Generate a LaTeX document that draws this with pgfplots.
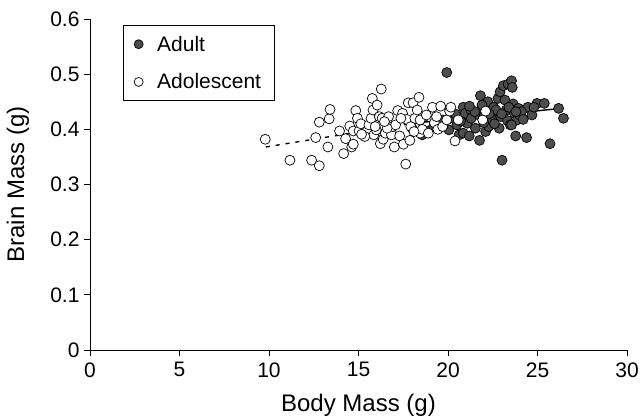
\documentclass[border=0pt]{standalone}
\usepackage{pgfplots}
\pgfplotsset{compat=1.18}
\usepackage{fontspec}
\setmainfont{Liberation Sans}
\definecolor{adultfill}{HTML}{4D4D4D}
\begin{document}
\begin{tikzpicture}
\begin{axis}[
  scale only axis,
  width=537pt, height=331pt,
  xmin=0, xmax=30, ymin=0, ymax=0.6,
  xtick={0,5,...,30},
  ytick={0,0.1,0.2,0.3,0.4,0.5,0.6},
  axis x line*=bottom, axis y line*=left,
  tick align=outside,
  major tick length=6pt,
  axis line style={black, line width=0.8pt},
  tick style={black, line width=0.8pt},
  /pgf/number format/assume math mode=true,
  yticklabel={\pgfmathprintnumber[fixed,precision=1]{\tick}},
  ticklabel style={font=\fontsize{21}{24}\selectfont},
  xticklabel style={yshift=-3pt},
  yticklabel style={xshift=-1pt},
  xlabel={Body Mass (g)},
  ylabel={Brain Mass (g)},
  label style={font=\fontsize{24}{28}\selectfont},
  xlabel style={at={(axis description cs:0.5,-0.168)}, anchor=center},
  ylabel style={at={(axis description cs:-0.134,0.5)}, anchor=center},
  legend style={at={(axis description cs:0.061,0.982)}, anchor=north west,
    draw=black, line width=0.8pt, font=\fontsize{21}{24}\selectfont,
    inner xsep=11pt, inner ysep=8.5pt, row sep=17pt,
    nodes={inner sep=2pt}},
  legend cell align=left,
  legend image code/.code={\draw[#1, mark size=4.5pt] plot coordinates {(0pt,0pt)};},
  clip=false,
]
\addplot[only marks, mark=*, mark size=5pt, mark options={draw=black, fill=adultfill, line width=0.7pt}] coordinates {
(19.93,0.503) (17.99,0.402) (18.56,0.390) (18.90,0.397) (19.70,0.417) (20.05,0.399)
(20.27,0.420) (20.50,0.408) (20.62,0.390) (20.85,0.393) (20.85,0.440) (20.96,0.429)
(21.08,0.411) (21.19,0.388) (21.26,0.436) (21.30,0.420) (21.53,0.402) (21.72,0.426)
(21.76,0.380) (21.81,0.461) (21.88,0.438) (21.99,0.423) (22.10,0.396) (22.22,0.450)
(22.27,0.405) (22.40,0.429) (22.45,0.417) (22.56,0.440) (22.68,0.435) (22.79,0.456)
(22.86,0.402) (22.91,0.468) (22.95,0.423) (23.02,0.344) (23.09,0.479) (23.18,0.453)
(23.25,0.435) (23.32,0.416) (23.36,0.482) (23.48,0.408) (23.55,0.488) (23.59,0.476)
(23.64,0.446) (23.71,0.429) (23.78,0.388) (23.87,0.417) (23.94,0.438) (24.00,0.426)
(24.39,0.385) (24.46,0.440) (24.69,0.426) (24.97,0.447) (25.38,0.447) (25.70,0.374)
(26.18,0.438) (26.45,0.420) (23.55,0.408) (24.10,0.432) (21.50,0.432) (22.00,0.412)
(20.40,0.428) (19.20,0.405) (23.00,0.428) (24.80,0.440) (21.20,0.442) (22.60,0.410)
(23.40,0.440) (24.20,0.418) (20.70,0.415) (21.90,0.444) (22.30,0.428) (23.80,0.432)
};
\addlegendentry{\hspace{12pt}Adult}
\addplot[only marks, mark=*, mark size=5pt, mark options={draw=black, fill=white, line width=0.7pt}] coordinates {
(9.79,0.382) (11.17,0.344) (12.38,0.344) (12.61,0.385) (12.81,0.334) (12.81,0.413)
(13.29,0.368) (13.36,0.419) (13.41,0.436) (13.94,0.397) (14.17,0.356) (14.28,0.383)
(14.51,0.406) (14.62,0.368) (14.71,0.397) (14.71,0.373) (14.85,0.434) (14.94,0.420)
(15.03,0.397) (15.13,0.410) (15.47,0.396) (15.58,0.408) (15.70,0.420) (15.77,0.456)
(15.81,0.435) (15.86,0.390) (15.99,0.399) (16.04,0.444) (16.16,0.423) (16.22,0.374)
(16.27,0.473) (16.32,0.420) (16.38,0.382) (16.50,0.393) (16.68,0.423) (16.84,0.390)
(16.91,0.405) (17.00,0.368) (17.07,0.408) (17.19,0.434) (17.30,0.388) (17.46,0.429)
(17.51,0.373) (17.64,0.337) (17.69,0.418) (17.78,0.448) (17.92,0.405) (18.05,0.448)
(18.15,0.420) (18.28,0.435) (18.38,0.458) (18.44,0.417) (18.44,0.393) (18.56,0.400)
(19.13,0.440) (19.24,0.412) (19.43,0.400) (19.59,0.442) (19.70,0.405) (19.93,0.417)
(20.09,0.433) (20.16,0.440) (20.39,0.379) (20.57,0.417) (21.94,0.417) (22.10,0.433)
(15.35,0.387) (16.60,0.402) (17.87,0.380) (15.17,0.391) (15.93,0.405) (16.45,0.414)
(17.37,0.420) (18.79,0.426) (19.36,0.423) (18.90,0.393) (18.10,0.396)
};
\addlegendentry{\hspace{12pt}Adolescent}
\addplot[black, line width=1.4pt, forget plot] coordinates {(18.05,0.411) (26.34,0.438)};
\addplot[black, line width=1.4pt, dash pattern=on 4pt off 6pt, forget plot] coordinates {(9.82,0.368) (20.5,0.424)};
\coordinate (a) at (axis description cs:0,0);
\coordinate (b) at (axis description cs:1,1);
\end{axis}
\pgfresetboundingbox
\path (a) ++(-90pt,-69pt) coordinate (c);
\path (b) ++(14pt,19pt) coordinate (d);
\path[use as bounding box] (c) rectangle (d);
\end{tikzpicture}
\end{document}
